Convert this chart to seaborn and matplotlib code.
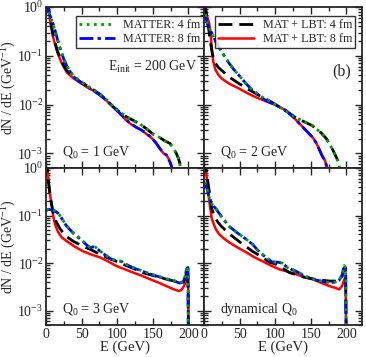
import numpy as np
import pandas as pd
import matplotlib
matplotlib.use("Agg")
import matplotlib.pyplot as plt
import seaborn as sns
from matplotlib.ticker import LogLocator, MultipleLocator, NullFormatter

# ---------------- data ----------------
# Panel Q0 = 1 GeV
tl_red_E = [2, 4, 6, 8, 10, 13, 16, 22, 29, 38, 48, 57, 66, 75, 85, 92, 99, 106, 113, 120, 127, 134, 141, 148, 155, 160, 165, 169, 172, 175, 178, 181]
tl_red_y = [1.26, 0.83, 0.50, 0.34, 0.24, 0.166, 0.117, 0.071, 0.046, 0.035, 0.028, 0.023, 0.0195, 0.0158, 0.012, 0.0095, 0.0076, 0.006, 0.0047, 0.0039, 0.0034, 0.0030, 0.0025, 0.0021, 0.0016, 0.00126, 0.001, 0.00093, 0.00079, 0.00063, 0.00045, 0.00025]
tl_blue_E = [2, 4, 6, 8, 10, 13, 16, 20, 25, 30, 38, 48, 57, 66, 75, 85, 92, 99, 106, 113, 120, 127, 134, 141, 148, 155, 160, 165, 169, 172, 175, 178, 181]
tl_blue_y = [1.1, 0.8, 0.65, 0.55, 0.45, 0.32, 0.22, 0.14, 0.085, 0.058, 0.038, 0.029, 0.024, 0.0195, 0.016, 0.0122, 0.0097, 0.0078, 0.0062, 0.0048, 0.004, 0.0034, 0.003, 0.0026, 0.0021, 0.0016, 0.00125, 0.001, 0.00093, 0.00078, 0.00062, 0.00044, 0.00025]
tl_black_E = [2, 4, 6, 8, 10, 13, 16, 22, 29, 38, 48, 57, 66, 75, 85, 94, 104, 114, 123, 132, 141, 150, 160, 167, 174, 179, 183, 186, 188, 191]
tl_black_y = [1.26, 0.89, 0.56, 0.38, 0.27, 0.18, 0.126, 0.076, 0.05, 0.037, 0.0295, 0.0245, 0.0204, 0.0166, 0.0126, 0.0091, 0.0069, 0.0055, 0.0047, 0.004, 0.0032, 0.0025, 0.0021, 0.0018, 0.0016, 0.00126, 0.001, 0.00079, 0.00063, 0.00025]
tl_green_E = [2, 4, 6, 8, 10, 13, 16, 20, 25, 30, 38, 48, 57, 66, 75, 85, 94, 104, 114, 123, 132, 141, 150, 160, 167, 174, 179, 183, 186, 188, 191]
tl_green_y = [1.1, 0.8, 0.65, 0.55, 0.45, 0.32, 0.22, 0.14, 0.088, 0.06, 0.04, 0.0300, 0.0248, 0.0205, 0.0167, 0.0127, 0.0092, 0.0070, 0.0056, 0.0047, 0.004, 0.0032, 0.0025, 0.0021, 0.0018, 0.0016, 0.00126, 0.001, 0.00079, 0.00063, 0.00025]

# Panel Q0 = 2 GeV
tr_red_E = [1, 3, 5, 7, 9, 11, 13, 16, 20, 25, 35, 49, 60, 73, 85, 96, 105, 115, 125, 134, 141, 148, 153, 158, 162, 166, 170, 173, 176]
tr_red_y = [1.26, 0.79, 0.6, 0.48, 0.32, 0.14, 0.076, 0.052, 0.041, 0.034, 0.027, 0.0214, 0.0174, 0.0141, 0.012, 0.0105, 0.0091, 0.0076, 0.0056, 0.0041, 0.0032, 0.0025, 0.0021, 0.0016, 0.0012, 0.00089, 0.00071, 0.0005, 0.00025]
tr_blue_E = [2, 4, 6, 8, 10, 13, 17, 21, 28, 35, 42, 49, 58, 68, 78, 87, 96, 105, 115, 125, 134, 141, 148, 153, 158, 162, 166, 170, 173, 176]
tr_blue_y = [0.71, 0.5, 0.4, 0.35, 0.31, 0.25, 0.19, 0.15, 0.102, 0.071, 0.052, 0.04, 0.028, 0.0195, 0.0151, 0.012, 0.0105, 0.0091, 0.0076, 0.0056, 0.0041, 0.0032, 0.0025, 0.0021, 0.0016, 0.0012, 0.00089, 0.00071, 0.0005, 0.00025]
tr_black_E = [1, 3, 5, 7, 9, 12, 16, 20, 25, 35, 49, 65, 82, 95, 105, 117, 129, 140, 152, 160, 166, 172, 177, 181, 185, 188, 190, 192]
tr_black_y = [1.26, 0.79, 0.5, 0.32, 0.19, 0.105, 0.071, 0.058, 0.05, 0.037, 0.027, 0.0195, 0.0141, 0.0112, 0.0091, 0.0071, 0.0054, 0.0045, 0.0037, 0.003, 0.0025, 0.002, 0.0015, 0.00117, 0.00089, 0.00071, 0.00056, 0.00025]
tr_green_E = [2, 4, 6, 8, 10, 13, 17, 21, 28, 35, 42, 49, 58, 68, 82, 95, 105, 117, 129, 140, 152, 160, 166, 172, 177, 181, 185, 188, 190, 192]
tr_green_y = [0.71, 0.5, 0.4, 0.35, 0.31, 0.25, 0.19, 0.15, 0.102, 0.071, 0.052, 0.04, 0.028, 0.02, 0.0141, 0.0112, 0.0091, 0.0071, 0.0054, 0.0045, 0.0037, 0.003, 0.0025, 0.002, 0.0015, 0.00117, 0.00089, 0.00071, 0.00056, 0.00025]

# Panel Q0 = 3 GeV
bl_red_E = [1, 3, 6, 10, 13, 17, 22, 29, 40, 52, 64, 76, 88, 99, 111, 123, 135, 146, 158, 169, 180, 186, 190, 194, 197, 199, 200, 200.5]
bl_red_y = [1.58, 0.68, 0.26, 0.1, 0.063, 0.045, 0.035, 0.029, 0.0224, 0.0178, 0.0151, 0.0132, 0.0107, 0.0087, 0.0074, 0.0063, 0.0054, 0.0046, 0.0039, 0.0033, 0.0028, 0.0026, 0.0027, 0.0033, 0.0045, 0.0056, 0.0025, 1e-5]
bl_black_E = [1, 3, 6, 10, 14, 20, 28, 38, 50, 62, 74, 85, 97, 108, 122, 136, 152, 169, 180, 188, 193, 196, 198, 199.5, 200.5]
bl_black_y = [1.58, 0.56, 0.25, 0.117, 0.076, 0.052, 0.037, 0.029, 0.0234, 0.0195, 0.0158, 0.0132, 0.0112, 0.0095, 0.0078, 0.0063, 0.0054, 0.0046, 0.0042, 0.0039, 0.004, 0.005, 0.0071, 0.0079, 1e-5]
bl_blue_E = [0.5, 3, 7, 12, 17, 23, 29, 38, 48, 56, 62, 66, 70, 76, 85, 92, 99, 104, 108, 113, 123, 135, 146, 158, 169, 180, 188, 193, 196, 198, 199.5, 200.5]
bl_blue_y = [0.126, 0.135, 0.132, 0.126, 0.112, 0.083, 0.06, 0.043, 0.032, 0.025, 0.021, 0.022, 0.0214, 0.0178, 0.0141, 0.012, 0.0112, 0.011, 0.0105, 0.0093, 0.0079, 0.0068, 0.0059, 0.0052, 0.0046, 0.0042, 0.0038, 0.004, 0.0056, 0.0085, 0.0079, 1e-5]
bl_green_E = [0.5, 3, 7, 12, 17, 23, 29, 38, 48, 56, 62, 66, 70, 76, 85, 92, 99, 104, 108, 113, 123, 135, 146, 158, 169, 180, 188, 193, 196, 198, 199.5, 200.5]
bl_green_y = [0.128, 0.136, 0.133, 0.127, 0.113, 0.084, 0.061, 0.044, 0.0325, 0.0255, 0.0213, 0.0222, 0.0215, 0.018, 0.0143, 0.0121, 0.0113, 0.0111, 0.0106, 0.0094, 0.008, 0.0069, 0.006, 0.0053, 0.0047, 0.0043, 0.0039, 0.0041, 0.0057, 0.0086, 0.008, 1e-5]

# Panel dynamical Q0
br_red_E = [1, 4, 7, 11, 16, 21, 28, 35, 47, 59, 70, 82, 94, 106, 118, 129, 140, 152, 164, 176, 185, 190, 194, 197, 199, 200.5]
br_red_y = [1.58, 0.59, 0.22, 0.085, 0.054, 0.041, 0.033, 0.0275, 0.0214, 0.017, 0.0135, 0.011, 0.0089, 0.0074, 0.0066, 0.0059, 0.0051, 0.0046, 0.0039, 0.0033, 0.003, 0.0028, 0.0033, 0.0045, 0.005, 1e-5]
br_black_E = [1, 4, 7, 11, 15, 20, 25, 35, 45, 56, 68, 80, 92, 101, 110, 120, 129, 140, 152, 164, 176, 185, 190, 194, 197, 199, 200.5]
br_black_y = [1.58, 0.71, 0.36, 0.138, 0.093, 0.071, 0.058, 0.042, 0.032, 0.024, 0.0178, 0.0138, 0.0105, 0.0095, 0.0079, 0.0063, 0.0058, 0.0051, 0.0047, 0.0044, 0.0042, 0.0042, 0.0044, 0.0052, 0.0079, 0.0071, 1e-5]
br_blue_E = [1, 4, 7, 12, 17, 25, 35, 47, 59, 68, 78, 87, 96, 103, 110, 118, 129, 140, 152, 164, 176, 185, 190, 194, 197, 199, 200.5]
br_blue_y = [0.5, 0.38, 0.25, 0.166, 0.138, 0.093, 0.06, 0.043, 0.032, 0.025, 0.017, 0.0132, 0.0105, 0.0105, 0.01, 0.0079, 0.0068, 0.0055, 0.0046, 0.0042, 0.0039, 0.004, 0.0044, 0.0056, 0.0089, 0.0079, 1e-5]
br_green_E = br_blue_E
br_green_y = br_blue_y

series_labels = ["MATTER: 4 fm", "MATTER: 8 fm", "MAT + LBT: 4 fm", "MAT + LBT: 8 fm"]
panel_texts = ["Q$_0$ = 1 GeV", "Q$_0$ = 2 GeV", "Q$_0$ = 3 GeV", "dynamical Q$_0$"]
x_ticks = [0, 50, 100, 150, 200]

# ---------------- style ----------------
sns.set_style("ticks")
plt.rcParams["font.family"] = ["Liberation Serif", "DejaVu Serif"]
plt.rcParams["mathtext.fontset"] = "custom"
plt.rcParams["mathtext.rm"] = "Liberation Serif"
plt.rcParams["mathtext.it"] = "Liberation Serif:italic"
plt.rcParams["mathtext.bf"] = "Liberation Serif:bold"

styles = {
    "green": dict(color="#00a000", linestyle=(0, (1.0, 1.6)), lw=2.0),
    "blue": dict(color="#0000ff", linestyle=(0, (5.0, 1.5, 1.2, 1.5)), lw=2.0),
    "black": dict(color="black", linestyle=(0, (5.0, 2.5)), lw=2.0),
    "red": dict(color="#ff0000", linestyle="-", lw=1.8),
}

panels = [
    dict(red=(tl_red_E, tl_red_y), black=(tl_black_E, tl_black_y), blue=(tl_blue_E, tl_blue_y), green=(tl_green_E, tl_green_y)),
    dict(red=(tr_red_E, tr_red_y), black=(tr_black_E, tr_black_y), blue=(tr_blue_E, tr_blue_y), green=(tr_green_E, tr_green_y)),
    dict(red=(bl_red_E, bl_red_y), black=(bl_black_E, bl_black_y), blue=(bl_blue_E, bl_blue_y), green=(bl_green_E, bl_green_y)),
    dict(red=(br_red_E, br_red_y), black=(br_black_E, br_black_y), blue=(br_blue_E, br_blue_y), green=(br_green_E, br_green_y)),
]
label_of = {"green": series_labels[0], "blue": series_labels[1], "black": series_labels[2], "red": series_labels[3]}

W, H = 366, 357
fig = plt.figure(figsize=(W / 100, H / 100), dpi=100)
rects = [
    (46, 7, 158, 161), (204, 7, 158, 161),
    (46, 168, 158, 157), (204, 168, 158, 157),
]
axes = []
for (x0, y0, w, h) in rects:
    axes.append(fig.add_axes([x0 / W, 1 - (y0 + h) / H, w / W, h / H]))

for i, ax in enumerate(axes):
    pdata = panels[i]
    for key in ["red", "black", "blue", "green"]:
        E, y = pdata[key]
        df = pd.DataFrame({"E": E, "y": y})
        sns.lineplot(data=df, x="E", y="y", ax=ax, estimator=None, sort=False,
                     label=label_of[key], legend=False, **styles[key])
    ax.set_yscale("log")
    ax.set_xlim(0, 222)
    ax.set_ylim(5e-4, 1)
    ax.xaxis.set_major_locator(MultipleLocator(50))
    ax.xaxis.set_minor_locator(MultipleLocator(25))
    ax.yaxis.set_major_locator(LogLocator(base=10, numticks=10))
    ax.yaxis.set_minor_locator(LogLocator(base=10, subs=np.arange(2, 10), numticks=20))
    ax.yaxis.set_minor_formatter(NullFormatter())
    ax.tick_params(which="both", direction="in", top=True, right=True, width=1.0,
                   labelsize=10, pad=2)
    ax.tick_params(which="major", length=5)
    ax.tick_params(which="minor", length=3)
    for s in ax.spines.values():
        s.set_linewidth(1.3)
    ax.set_xlabel("")
    ax.set_ylabel("")
    if i in (1, 3):
        ax.tick_params(labelleft=False)
    if i in (0, 1):
        ax.tick_params(labelbottom=False)
    else:
        ax.set_xticks(x_ticks)
        ax.set_xticklabels([str(t) for t in x_ticks])
        ax.set_xlim(0, 222)
        ax.set_xlabel("E (GeV)", fontsize=10.5, labelpad=0)
    if i in (0, 2):
        ax.set_ylabel("dN / dE (GeV$^{-1}$)", fontsize=10)
        ax.yaxis.set_label_coords(-0.178, 0.5)
    ax.text(0.1, 0.1, panel_texts[i], transform=ax.transAxes,
            fontsize=10, ha="left", va="center")

axes[0].text(0.39, 0.63, "E$_{\\mathrm{init}}$ = 200 GeV", transform=axes[0].transAxes,
             fontsize=10, ha="left", va="center")
axes[1].text(0.87, 0.6, "(b)", transform=axes[1].transAxes, fontsize=11.5, ha="center", va="center")

def get_handles(ax, labels):
    hs = []
    for lab in labels:
        for ln in ax.get_lines():
            if ln.get_label() == lab:
                hs.append(ln)
                break
    return hs

for ax, labs, anchor in [(axes[0], series_labels[:2], (1.02, 0.965)), (axes[1], series_labels[2:], (0.98, 0.965))]:
    hs = get_handles(ax, labs)
    leg = ax.legend(hs, labs, loc="upper right", bbox_to_anchor=anchor,
                    fontsize=8.7, frameon=True, fancybox=False, edgecolor="black",
                    handlelength=3.0, handletextpad=0.7, borderpad=0.25, labelspacing=0.15,
                    borderaxespad=0.3)
    leg.get_frame().set_linewidth(1.0)
    leg.set_zorder(5)

fig.savefig("out.png", dpi=100)
